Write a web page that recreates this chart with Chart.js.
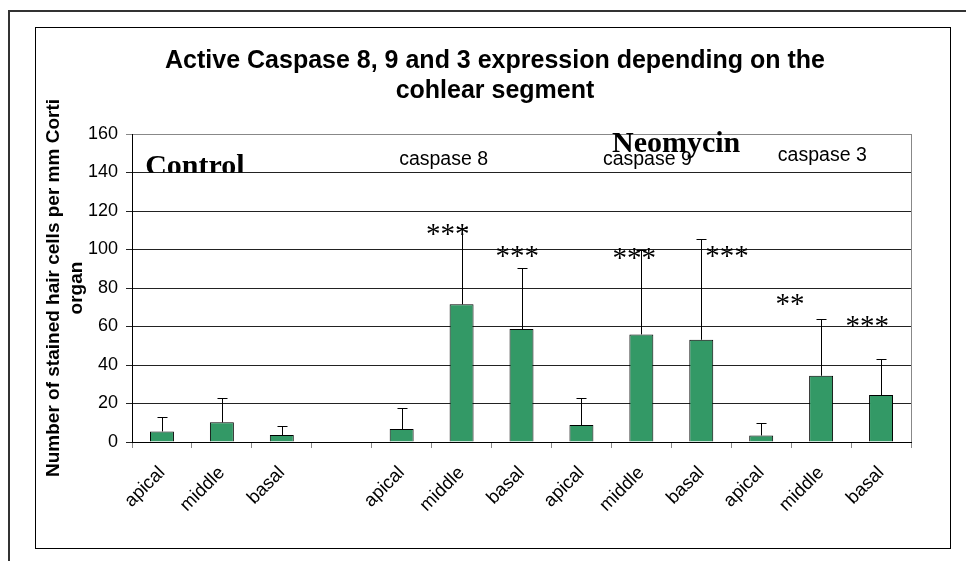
<!DOCTYPE html>
<html>
<head>
<meta charset="utf-8">
<script src="https://cdn.jsdelivr.net/npm/chart.js@4.4.0/dist/chart.umd.min.js"></script>
<style>
  html, body { margin: 0; padding: 0; background: #fff; }
  #wrap { width: 966px; height: 561px; position: relative; }
</style>
</head>
<body>
<div id="wrap"><canvas id="chart"></canvas></div>
<script>
// segment labels (slot 3 is the empty gap after the control group)
var segments = ["apical", "middle", "basal", "", "apical", "middle", "basal", "apical", "middle", "basal", "apical", "middle", "basal"];
// mean stained hair cells per mm
var meanCells = [5.5, 10.2, 3.6, null, 6.7, 71.5, 58.7, 8.8, 55.9, 53.1, 3.4, 34.4, 24.4];
// upper error bar length
var errCells = [7.5, 12.8, 4.7, null, 11, 39.5, 31.7, 14.2, 44.1, 52.4, 6.6, 29.6, 18.7];
var yTicks = [0, 20, 40, 60, 80, 100, 120, 140, 160];
var groupNames = ["caspase 8", "caspase 9", "caspase 3"];
var stars = ["***", "***", "***", "***", "**", "***"];

var titleLines = ["Active Caspase 8, 9 and 3 expression depending on the", "cohlear segment"];
var yTitleLines = ["Number of stained hair cells per mm Corti", "organ"];

// where the free text sits (category index, value)
var groupPos = [[4.7, 144], [8.1, 144], [11.02, 146]];
var starPos = [[4.77, 110.3], [5.93, 98.6], [7.88, 97.6], [9.43, 98.6], [10.48, 73.6], [11.77, 62.2]];

var SANS = "'Liberation Sans', Arial, sans-serif";
var SERIF = "'Liberation Serif', 'Times New Roman', serif";

var decor = {
  id: "decor",
  beforeDraw(chart) {
    let c = chart.ctx;
    c.save();
    c.fillStyle = "#fff";
    c.fillRect(0, 0, chart.width, chart.height);
    // outer frame (left + top only visible)
    c.strokeStyle = "#333";
    c.lineWidth = 2;
    c.beginPath();
    c.moveTo(9, 561);
    c.lineTo(9, 11);
    c.lineTo(966, 11);
    c.stroke();
    // inner chart box
    c.strokeStyle = "#000";
    c.lineWidth = 1;
    c.strokeRect(35.5, 27.5, 915, 521);
    c.restore();
  },
  afterDatasetsDraw(chart) {
    let c = chart.ctx, ys = chart.scales.y, xs = chart.scales.x;
    let meta = chart.getDatasetMeta(0);
    let area = chart.chartArea;
    c.save();
    // right edge of plot area
    c.strokeStyle = "#888";
    c.lineWidth = 1;
    c.beginPath();
    c.moveTo(Math.round(area.right) + 0.5, area.top);
    c.lineTo(Math.round(area.right) + 0.5, area.bottom);
    c.stroke();

    // error bars (upper only)
    c.strokeStyle = "#000";
    meanCells.forEach((v, i) => {
      if (v == null) return;
      let x = Math.round(meta.data[i].x) + 0.5;
      let y0 = ys.getPixelForValue(v);
      let y1 = Math.round(ys.getPixelForValue(v + errCells[i])) + 0.5;
      c.beginPath();
      c.moveTo(x, y0);
      c.lineTo(x, y1);
      c.moveTo(x - 5, y1);
      c.lineTo(x + 5, y1);
      c.stroke();
    });

    // group names
    c.fillStyle = "#000";
    c.font = "19.5px " + SANS;
    c.textAlign = "center";
    c.textBaseline = "alphabetic";
    groupNames.forEach((t, i) => {
      c.fillText(t, xs.getPixelForValue(groupPos[i][0]), ys.getPixelForValue(groupPos[i][1]));
    });

    // significance stars
    c.font = "29px " + SERIF;
    stars.forEach((t, i) => {
      c.fillText(t, xs.getPixelForValue(starPos[i][0]), ys.getPixelForValue(starPos[i][1]) + 13);
    });

    // treatment labels
    c.font = "bold 30px " + SERIF;
    c.textAlign = "left";
    c.fillText("Neomycin", xs.getPixelForValue(7.51), ys.getPixelForValue(150.8));
    c.save();
    c.beginPath();
    c.rect(0, 0, chart.width, ys.getPixelForValue(140));
    c.clip();
    c.fillText("Control", xs.getPixelForValue(-0.28), ys.getPixelForValue(138.9));
    c.restore();
    c.restore();
  },
  afterDraw(chart) {
    let c = chart.ctx;
    c.save();
    c.fillStyle = "#000";
    c.textAlign = "center";
    c.textBaseline = "alphabetic";
    c.font = "bold 25px " + SANS;
    c.fillText(titleLines[0], 495, 68);
    c.fillText(titleLines[1], 495, 98);
    // y axis title
    c.font = "bold 19px " + SANS;
    c.translate(0, 288);
    c.rotate(-Math.PI / 2);
    c.textBaseline = "middle";
    c.fillText(yTitleLines[0], 0, 54);
    c.fillText(yTitleLines[1], 0, 77);
    c.restore();
  }
};

new Chart(document.getElementById("chart"), {
  type: "bar",
  data: {
    labels: segments,
    datasets: [{
      data: meanCells,
      backgroundColor: "#339966",
      borderColor: "#000",
      borderWidth: 1,
      categoryPercentage: 0.8,
      barPercentage: 0.5
    }]
  },
  options: {
    responsive: true,
    maintainAspectRatio: false,
    animation: false,
    events: [],
    layout: { padding: { left: 0, top: 134, right: 55, bottom: 0 } },
    plugins: { legend: { display: false }, tooltip: { enabled: false }, title: { display: false } },
    scales: {
      x: {
        afterFit(s) { s.height = 119; },
        grid: { offset: true, drawOnChartArea: false, drawTicks: true, tickLength: 6, color: "#888" },
        border: { color: "#000", width: 1 },
        ticks: { autoSkip: false, maxRotation: 45, minRotation: 45, color: "#000", padding: 14, font: { family: SANS, size: 18.5 } }
      },
      y: {
        min: 0,
        max: 160,
        afterFit(s) { s.width = 132; },
        afterBuildTicks(s) { s.ticks = yTicks.map(v => ({ value: v })); },
        grid: { color: (ctx) => ctx.tick && ctx.tick.value === 160 ? "#888" : "#222", tickLength: 6 },
        border: { color: "#000", width: 1 },
        ticks: { color: "#000", padding: 8, font: { family: SANS, size: 18 } }
      }
    }
  },
  plugins: [decor]
});
</script>
</body>
</html>
